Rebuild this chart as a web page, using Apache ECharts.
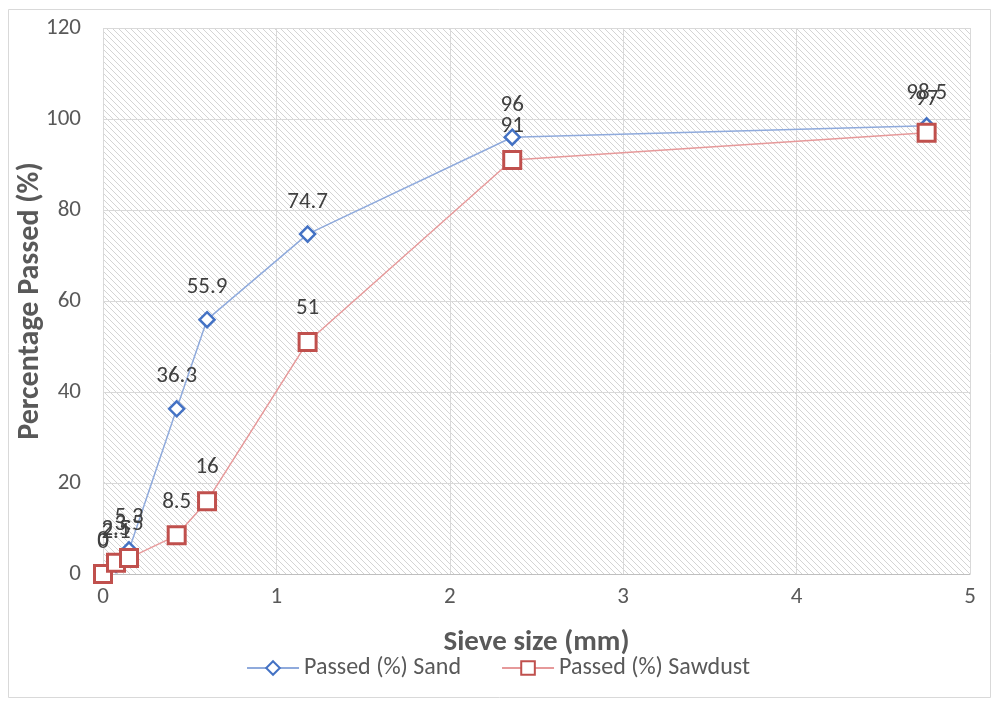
<!DOCTYPE html>
<html><head><meta charset="utf-8">
<script src="https://cdn.jsdelivr.net/npm/echarts@6/dist/echarts.min.js"></script>
<style>html,body{margin:0;padding:0;background:#fff}#c{width:996px;height:701px}</style>
</head><body><div id="c"></div>
<script>
const sieveSizes = [0, 0.075, 0.15, 0.425, 0.6, 1.18, 2.36, 4.75];
const sandPassed = [0, 2.1, 5.3, 36.3, 55.9, 74.7, 96, 98.5];
const sawdustPassed = [0, 2.5, 3.5, 8.5, 16, 51, 91, 97];
const xTicks = [0, 1, 2, 3, 4, 5];
const yTicks = [0, 20, 40, 60, 80, 100, 120];

// hatch pattern
const pc = document.createElement('canvas');
pc.width = 6; pc.height = 6;
const g = pc.getContext('2d');
g.fillStyle = '#ffffff'; g.fillRect(0,0,6,6);
g.strokeStyle = '#d4d4d4'; g.lineWidth = 1;
g.beginPath();
g.moveTo(0,0); g.lineTo(6,6);
g.moveTo(-3,3); g.lineTo(3,9);
g.moveTo(3,-3); g.lineTo(9,3);
g.stroke();

const chart = echarts.init(document.getElementById('c'));
const font = 'Carlito, Lato, sans-serif';
chart.setOption({
  animation: false,
  backgroundColor: '#fff',
  graphic: [{type:'rect', shape:{x:8.5,y:9.5,width:982,height:688}, style:{fill:'none', stroke:'#d9d9d9', lineWidth:1}, silent:true}],
  grid: {left: 103, right: 26, top: 28, bottom: 127, show: true, backgroundColor: {image: pc, repeat: 'repeat'}, borderWidth: 0, outerBoundsMode: 'none', containLabel: false},
  legend: {
    bottom: 16, left: 'center', itemGap: 40, itemWidth: 52, itemHeight: 17,
    textStyle: {fontSize: 24, color: '#595959', fontFamily: font},
    data: ['Passed (%) Sand', 'Passed (%) Sawdust']
  },
  xAxis: {
    type: 'value', min: 0, max: 5, interval: 1,
    name: 'Sieve size (mm)', nameLocation: 'middle', nameGap: 54, nameMoveOverlap: false,
    nameTextStyle: {fontSize: 29, fontWeight: 'bold', color: '#595959', fontFamily: font},
    axisLine: {lineStyle: {color: '#bfbfbf'}},
    axisTick: {show: false},
    axisLabel: {fontSize: 23, color: '#595959', fontFamily: font, margin: 12, formatter: v => xTicks.includes(v) ? String(v) : ''},
    splitLine: {show: true, lineStyle: {color: '#d9d9d9'}}
  },
  yAxis: {
    type: 'value', min: 0, max: 120, interval: 20,
    name: 'Percentage Passed (%)', nameLocation: 'middle', nameGap: 58, nameMoveOverlap: false,
    nameTextStyle: {fontSize: 30, fontWeight: 'bold', color: '#595959', fontFamily: font},
    axisLine: {show: false}, axisTick: {show: false},
    axisLabel: {fontSize: 23, color: '#595959', fontFamily: font, margin: 22, formatter: v => yTicks.includes(v) ? String(v) : ''},
    splitLine: {show: true, lineStyle: {color: '#d9d9d9'}}
  },
  series: [
    {
      name: 'Passed (%) Sand', type: 'line',
      data: sieveSizes.map((x, i) => [x, sandPassed[i]]),
      symbol: 'diamond', symbolSize: 15,
      lineStyle: {color: '#8faadc', width: 1.5},
      itemStyle: {color: '#fff', borderColor: '#4472c4', borderWidth: 2.5},
      label: {show: true, position: 'top', distance: 12, fontSize: 23, color: '#404040', fontFamily: font},
      z: 3
    },
    {
      name: 'Passed (%) Sawdust', type: 'line',
      data: sieveSizes.map((x, i) => [x, sawdustPassed[i]]),
      symbol: 'rect', symbolSize: 17,
      lineStyle: {color: '#e6999a', width: 1.5},
      itemStyle: {color: '#fff', borderColor: '#c0504d', borderWidth: 3},
      label: {show: true, position: 'top', distance: 12, fontSize: 23, color: '#404040', fontFamily: font},
      z: 4
    }
  ]
});
</script></body></html>
